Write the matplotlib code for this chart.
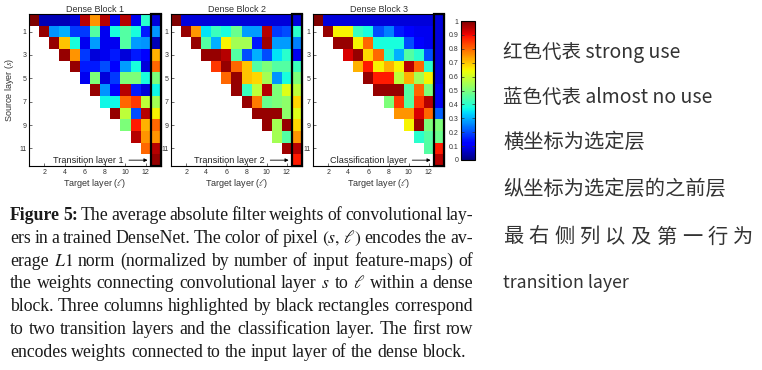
import numpy as np
import matplotlib
matplotlib.use("Agg")
import matplotlib.pyplot as plt
from matplotlib.patches import Rectangle

plt.rcParams["mathtext.fontset"] = "stix"

#
# data: one list per source row s (0..12), values for target l = s+1 .. 13
# (column 13 is the transition / classification layer)
#
block1_rows = [
    [1.0, 0.05, 0.05, 0.05, 0.08, 0.95, 0.75, 0.95, 0.1, 0.95, 0.1, 0.4, 0.08],
    [0.98, 0.27, 0.3, 0.18, 0.18, 0.45, 0.1, 0.38, 0.45, 0.38, 0.15, 0.27],
    [0.98, 0.7, 0.38, 0.1, 0.28, 0.1, 0.1, 0.45, 0.28, 0.27, 0.05],
    [0.98, 0.75, 0.18, 0.08, 0.1, 0.15, 0.08, 0.15, 0.12, 0.72],
    [0.98, 0.15, 0.15, 0.2, 0.12, 0.28, 0.38, 0.08, 0.8],
    [0.1, 0.5, 0.08, 0.18, 0.5, 0.5, 0.38, 0.5],
    [0.98, 0.27, 0.12, 0.95, 0.15, 0.08, 0.37],
    [0.37, 0.37, 0.8, 0.85, 0.58, 0.55],
    [0.98, 0.58, 0.2, 0.95, 0.65],
    [0.5, 0.88, 0.72, 0.8],
    [0.95, 0.75, 0.75],
    [0.8, 0.95],
    [0.98],
]
block2_rows = [
    [1.0, 0.08, 0.08, 0.08, 0.08, 0.08, 0.08, 0.08, 0.08, 0.08, 0.08, 0.08, 0.08],
    [0.98, 0.75, 0.35, 0.42, 0.38, 0.48, 0.28, 0.28, 0.95, 0.18, 0.2, 0.4],
    [0.98, 0.45, 0.3, 0.65, 0.55, 0.55, 0.15, 0.97, 0.28, 0.28, 0.25],
    [0.98, 0.98, 0.95, 0.45, 0.2, 0.3, 0.2, 0.35, 0.4, 0.1],
    [0.85, 0.98, 0.8, 0.7, 0.45, 0.5, 0.45, 0.45, 0.42],
    [0.8, 0.98, 0.7, 0.68, 0.55, 0.27, 0.38, 0.5],
    [0.98, 0.42, 0.58, 0.95, 0.5, 0.62, 0.58],
    [0.98, 0.78, 0.48, 0.5, 0.52, 0.68],
    [0.98, 0.98, 0.98, 0.52, 0.62],
    [0.98, 0.55, 0.98, 0.68],
    [0.55, 0.45, 0.75],
    [0.97, 0.95],
    [0.88],
]
block3_rows = [
    [1.0, 0.08, 0.08, 0.08, 0.08, 0.08, 0.08, 0.08, 0.08, 0.08, 0.08, 0.08, 0.08],
    [0.98, 0.65, 0.65, 0.42, 0.38, 0.2, 0.25, 0.15, 0.12, 0.1, 0.1, 0.08],
    [0.98, 0.98, 0.65, 0.8, 0.38, 0.38, 0.38, 0.2, 0.12, 0.1, 0.08],
    [0.92, 0.98, 0.68, 0.8, 0.4, 0.3, 0.45, 0.4, 0.2, 0.08],
    [0.72, 0.88, 0.65, 0.72, 0.65, 0.95, 0.8, 0.4, 0.08],
    [0.98, 0.88, 0.88, 0.58, 0.72, 0.55, 0.65, 0.08],
    [0.98, 0.98, 0.98, 0.45, 0.8, 0.5, 0.1],
    [0.5, 0.85, 0.45, 0.85, 0.95, 0.1],
    [0.75, 0.75, 0.92, 0.8, 0.22],
    [0.65, 0.98, 0.5, 0.5],
    [0.4, 0.45, 0.48],
    [0.45, 0.88],
    [0.95],
]
block_titles = ["Dense Block 1", "Dense Block 2", "Dense Block 3"]
block_arrow_labels = ["Transition layer 1", "Transition layer 2", "Classification layer"]
x_ticks = [2, 4, 6, 8, 10, 12]
y_ticks = [1, 3, 5, 7, 9, 11]
cbar_ticks = [0, 0.1, 0.2, 0.3, 0.4, 0.5, 0.6, 0.7, 0.8, 0.9, 1]

caption_lines = [
    ["Figure", "5:", "The", "average", "absolute", "filter", "weights", "of", "convolutional", "lay-"],
    ["ers", "in", "a", "trained", "DenseNet.", "The", "color", "of", "pixel", r"$(s,\,\ell)$", "encodes", "the", "av-"],
    ["erage", "$L1$", "norm", "(normalized", "by", "number", "of", "input", "feature-maps)", "of"],
    ["the", "weights", "connecting", "convolutional", "layer", "$s$", "to", r"$\ell$", "within", "a", "dense"],
    ["block.", "Three", "columns", "highlighted", "by", "black", "rectangles", "correspond"],
    ["to", "two", "transition", "layers", "and", "the", "classification", "layer.", "The", "first", "row"],
    ["encodes", "weights", "connected", "to", "the", "input", "layer", "of", "the", "dense", "block."],
]
notes = [
    "红色代表 strong use",
    "蓝色代表 almost no use",
    "横坐标为选定层",
    "纵坐标为选定层的之前层",
    "最右侧列以及第一行为",
    "transition layer",
]

W, H = 762, 370


def to_matrix(rows):
    n = len(rows)
    m = np.full((n, n), np.nan)
    for s, vals in enumerate(rows):
        m[s, s:] = vals
    return np.ma.masked_invalid(m)


def px_axes(fig, x0, y0, x1, y1):
    return fig.add_axes([x0 / W, 1 - y1 / H, (x1 - x0) / W, (y1 - y0) / H])


def spread(fig, renderer, pieces, x0, x1, y, gap=None, **kw):
    """place pieces of text on one line, evenly spread between x0 and x1 (pixels)"""
    texts = []
    for p, extra in pieces:
        t = fig.text(0, y, p, **kw, **extra)
        texts.append(t)
    widths = [t.get_window_extent(renderer).width for t in texts]
    if gap is None:
        gap = (x1 - x0 - sum(widths)) / (len(texts) - 1)
    x = x0
    for t, w in zip(texts, widths):
        t.set_x(x / W)
        x += w + gap


fig = plt.figure(figsize=(W / 100, H / 100), dpi=100)
renderer = fig.canvas.get_renderer()
sans = "Liberation Sans"

panel_px = [(29, 14, 161, 166), (171, 14, 302, 166), (313, 14, 444, 166)]
for i, rows in enumerate([block1_rows, block2_rows, block3_rows]):
    ax = px_axes(fig, *panel_px[i])
    data = to_matrix(rows)
    ax.imshow(data, cmap="jet", vmin=0, vmax=1, extent=(0.5, 13.5, 12.5, -0.5),
              aspect="auto", interpolation="nearest")
    ax.set_xlim(0.5, 13.5)
    ax.set_ylim(12.5, -0.5)
    ax.set_xticks(x_ticks)
    ax.set_yticks(y_ticks)
    ax.tick_params(direction="in", length=2, width=0.5, labelsize=5, pad=2, colors="#333333")
    for lab in ax.get_xticklabels() + ax.get_yticklabels():
        lab.set_family(sans)
    for sp in ax.spines.values():
        sp.set_linewidth(0.8)
    ax.add_patch(Rectangle((12.5, -0.5), 1, 13, fill=False, edgecolor="black", linewidth=1.6, clip_on=False))
    ax.set_title(block_titles[i], fontsize=6.5, family=sans, pad=1.5, color="#333333")
    ax.set_xlabel(r"Target layer ($\ell$)", fontsize=6.5, family=sans, labelpad=1, color="#333333")
    if i == 0:
        ax.set_ylabel(r"Source layer ($s$)", fontsize=6.5, family=sans, labelpad=2, color="#333333")
    ax.annotate(block_arrow_labels[i], xy=(12.45, 12), xytext=(9.8, 12), ha="right", va="center",
                fontsize=6.6, family=sans, color="#222222",
                arrowprops=dict(arrowstyle="-|>", color="black", lw=0.6, mutation_scale=5))

cax = px_axes(fig, 461, 21, 475, 160)
sm = plt.cm.ScalarMappable(cmap="jet", norm=plt.Normalize(0, 1))
cb = fig.colorbar(sm, cax=cax, ticks=cbar_ticks)
cb.ax.yaxis.set_ticks_position("both")
cb.ax.tick_params(direction="in", length=2, width=0.5, labelsize=5, labelleft=True, labelright=False,
                  pad=2, colors="#333333")
cb.ax.set_yticklabels([("%g" % t) for t in cbar_ticks], family=sans)
cb.outline.set_linewidth(0.8)

#
# caption, justified word by word; font size picked so the tightest line still fits
#
cap_left, cap_right = 10, 473
probe = []
for li, words in enumerate(caption_lines):
    tot = 0
    for wi, w in enumerate(words):
        t = fig.text(0, 0, w, fontsize=10, family="Liberation Serif",
                     fontweight="bold" if (li == 0 and wi < 2) else "normal")
        tot += t.get_window_extent(renderer).width
        t.remove()
    probe.append((tot, len(words) - 1))
min_gap = 2.8
cap_size = min(12.8, min(10 * (cap_right - cap_left - n * min_gap) / tot for tot, n in probe[:-1]))

for li, words in enumerate(caption_lines):
    y = 1 - (220 + 22.8 * li) / H
    pieces = [(w, {"fontweight": "bold" if (li == 0 and wi < 2) else "normal"}) for wi, w in enumerate(words)]
    last = li == len(caption_lines) - 1
    spread(fig, renderer, pieces, cap_left, cap_right, y, gap=cap_size * 0.33 if last else None,
           fontsize=cap_size, family="Liberation Serif", color="#1a1a1a", va="baseline")

# notes on the right
note_y = [52, 97, 142, 189, 237, 283]
note_size = [14, 14, 14.6, 14.6, 14.6, 12.8]
cjk = ["Noto Sans CJK SC", "DejaVu Sans"]
for k, (txt, yy) in enumerate(zip(notes, note_y)):
    if k == 4:
        # this line is letter-spaced across the full width
        spread(fig, renderer, [(c, {}) for c in txt], 503, 753, 1 - yy / H,
               fontsize=note_size[k], family=cjk, color="#333333", va="center")
    else:
        fig.text(503 / W, 1 - yy / H, txt, fontsize=note_size[k], family=cjk,
                 color="#333333", va="center", ha="left")

fig.savefig("out.png", dpi=100)
